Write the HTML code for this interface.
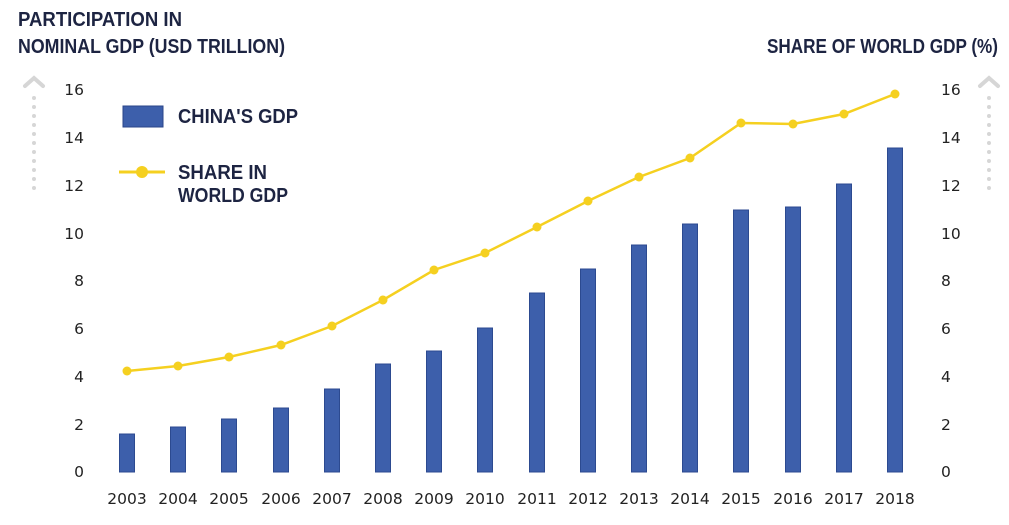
<!DOCTYPE html>
<html><head><meta charset="utf-8"><style>
html,body{margin:0;padding:0;background:#fff;}
svg{display:block;}
.t{font-family:"Liberation Sans",sans-serif;font-weight:bold;fill:#1d2442;font-size:20px;}
.n{font-family:"DejaVu Sans","Liberation Sans",sans-serif;fill:#222;font-size:15.5px;}
</style></head><body>
<svg width="1009" height="525" viewBox="0 0 1009 525" xmlns="http://www.w3.org/2000/svg">
<text class="t" x="18" y="26" textLength="164" lengthAdjust="spacingAndGlyphs">PARTICIPATION IN</text>
<text class="t" x="18" y="53" textLength="267" lengthAdjust="spacingAndGlyphs">NOMINAL GDP (USD TRILLION)</text>
<text class="t" x="767" y="53" textLength="231" lengthAdjust="spacingAndGlyphs">SHARE OF WORLD GDP (%)</text>
<g stroke="#d6d6d6" stroke-width="4" stroke-linecap="round" fill="none">
<polyline points="25,86 34,78 43,86"/>
<line x1="34" y1="98" x2="34" y2="190" stroke-dasharray="0,9"/>
<polyline points="980,86 989,78 998,86"/>
<line x1="989" y1="98" x2="989" y2="190" stroke-dasharray="0,9"/>
</g>
<g class="n" text-anchor="end">
<text x="84" y="477">0</text><text x="84" y="430">2</text><text x="84" y="382">4</text><text x="84" y="334">6</text><text x="84" y="286">8</text><text x="84" y="239">10</text><text x="84" y="191">12</text><text x="84" y="143">14</text><text x="84" y="95">16</text>
</g>
<g class="n" text-anchor="start">
<text x="941" y="477">0</text><text x="941" y="430">2</text><text x="941" y="382">4</text><text x="941" y="334">6</text><text x="941" y="286">8</text><text x="941" y="239">10</text><text x="941" y="191">12</text><text x="941" y="143">14</text><text x="941" y="95">16</text>
</g>
<rect x="123" y="106" width="40" height="21" fill="#3d5fab" stroke="#2a4488" stroke-width="1"/>
<text class="t" x="178" y="123" textLength="120" lengthAdjust="spacingAndGlyphs">CHINA'S GDP</text>
<line x1="119" y1="172" x2="165" y2="172" stroke="#f5d020" stroke-width="3"/>
<circle cx="142" cy="172" r="6" fill="#f5d020"/>
<text class="t" x="178" y="179" textLength="89" lengthAdjust="spacingAndGlyphs">SHARE IN</text>
<text class="t" x="178" y="202" textLength="110" lengthAdjust="spacingAndGlyphs">WORLD GDP</text>
<g fill="#3d5fab" stroke="#2c4a90" stroke-width="1">
<rect x="119.5" y="434" width="15" height="38"/>
<rect x="170.5" y="427" width="15" height="45"/>
<rect x="221.5" y="419" width="15" height="53"/>
<rect x="273.5" y="408" width="15" height="64"/>
<rect x="324.5" y="389" width="15" height="83"/>
<rect x="375.5" y="364" width="15" height="108"/>
<rect x="426.5" y="351" width="15" height="121"/>
<rect x="477.5" y="328" width="15" height="144"/>
<rect x="529.5" y="293" width="15" height="179"/>
<rect x="580.5" y="269" width="15" height="203"/>
<rect x="631.5" y="245" width="15" height="227"/>
<rect x="682.5" y="224" width="15" height="248"/>
<rect x="733.5" y="210" width="15" height="262"/>
<rect x="785.5" y="207" width="15" height="265"/>
<rect x="836.5" y="184" width="15" height="288"/>
<rect x="887.5" y="148" width="15" height="324"/>
</g>
<polyline fill="none" stroke="#f5d020" stroke-width="2.5" points="127,371 178,366 229,357 281,345 332,326 383,300 434,270 485,253 537,227 588,201 639,177 690,158 741,123 793,124 844,114 895,94"/>
<g fill="#f5d020">
<circle cx="127" cy="371" r="4.5"/><circle cx="178" cy="366" r="4.5"/><circle cx="229" cy="357" r="4.5"/><circle cx="281" cy="345" r="4.5"/><circle cx="332" cy="326" r="4.5"/><circle cx="383" cy="300" r="4.5"/><circle cx="434" cy="270" r="4.5"/><circle cx="485" cy="253" r="4.5"/><circle cx="537" cy="227" r="4.5"/><circle cx="588" cy="201" r="4.5"/><circle cx="639" cy="177" r="4.5"/><circle cx="690" cy="158" r="4.5"/><circle cx="741" cy="123" r="4.5"/><circle cx="793" cy="124" r="4.5"/><circle cx="844" cy="114" r="4.5"/><circle cx="895" cy="94" r="4.5"/>
</g>
<g class="n" text-anchor="middle">
<text x="127" y="504">2003</text><text x="178" y="504">2004</text><text x="229" y="504">2005</text><text x="281" y="504">2006</text><text x="332" y="504">2007</text><text x="383" y="504">2008</text><text x="434" y="504">2009</text><text x="485" y="504">2010</text><text x="537" y="504">2011</text><text x="588" y="504">2012</text><text x="639" y="504">2013</text><text x="690" y="504">2014</text><text x="741" y="504">2015</text><text x="793" y="504">2016</text><text x="844" y="504">2017</text><text x="895" y="504">2018</text>
</g>
</svg>
</body></html>
